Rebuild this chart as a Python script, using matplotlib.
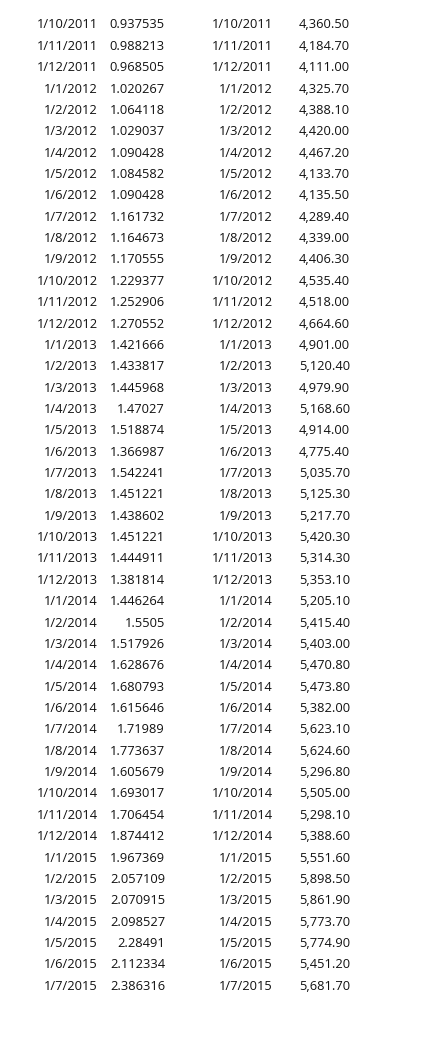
import matplotlib.pyplot as plt

plt.rcParams['font.family'] = ['Open Sans', 'DejaVu Sans']

dates = ['1/10/2011', '1/11/2011', '1/12/2011',
         '1/1/2012', '1/2/2012', '1/3/2012', '1/4/2012', '1/5/2012', '1/6/2012',
         '1/7/2012', '1/8/2012', '1/9/2012', '1/10/2012', '1/11/2012', '1/12/2012',
         '1/1/2013', '1/2/2013', '1/3/2013', '1/4/2013', '1/5/2013', '1/6/2013',
         '1/7/2013', '1/8/2013', '1/9/2013', '1/10/2013', '1/11/2013', '1/12/2013',
         '1/1/2014', '1/2/2014', '1/3/2014', '1/4/2014', '1/5/2014', '1/6/2014',
         '1/7/2014', '1/8/2014', '1/9/2014', '1/10/2014', '1/11/2014', '1/12/2014',
         '1/1/2015', '1/2/2015', '1/3/2015', '1/4/2015', '1/5/2015', '1/6/2015',
         '1/7/2015']

ratio = [0.937535, 0.988213, 0.968505, 1.020267, 1.064118, 1.029037, 1.090428,
         1.084582, 1.090428, 1.161732, 1.164673, 1.170555, 1.229377, 1.252906,
         1.270552, 1.421666, 1.433817, 1.445968, 1.47027, 1.518874, 1.366987,
         1.542241, 1.451221, 1.438602, 1.451221, 1.444911, 1.381814, 1.446264,
         1.5505, 1.517926, 1.628676, 1.680793, 1.615646, 1.71989, 1.773637,
         1.605679, 1.693017, 1.706454, 1.874412, 1.967369, 2.057109, 2.070915,
         2.098527, 2.28491, 2.112334, 2.386316]

index = [4360.50, 4184.70, 4111.00, 4325.70, 4388.10, 4420.00, 4467.20, 4133.70,
         4135.50, 4289.40, 4339.00, 4406.30, 4535.40, 4518.00, 4664.60, 4901.00,
         5120.40, 4979.90, 5168.60, 4914.00, 4775.40, 5035.70, 5125.30, 5217.70,
         5420.30, 5314.30, 5353.10, 5205.10, 5415.40, 5403.00, 5470.80, 5473.80,
         5382.00, 5623.10, 5624.60, 5296.80, 5505.00, 5298.10, 5388.60, 5551.60,
         5898.50, 5861.90, 5773.70, 5774.90, 5451.20, 5681.70]

W, H = 442, 1056
fig = plt.figure(figsize=(W / 100, H / 100), dpi=100)
ax = fig.add_axes([0, 0, 1, 1])
ax.set_xlim(0, W)
ax.set_ylim(H, 0)
ax.axis('off')

kw = dict(fontsize=9.3, va='center', ha='right', color='#111111')
for i, (d, r, v) in enumerate(zip(dates, ratio, index)):
    y = 25 + i * 21.36
    ax.text(98, y, d, **kw)
    ax.text(165, y, str(r), **kw)
    ax.text(273, y, d, **kw)
    ax.text(350, y, f'{v:,.2f}', **kw)

fig.savefig('out.png', dpi=100)
